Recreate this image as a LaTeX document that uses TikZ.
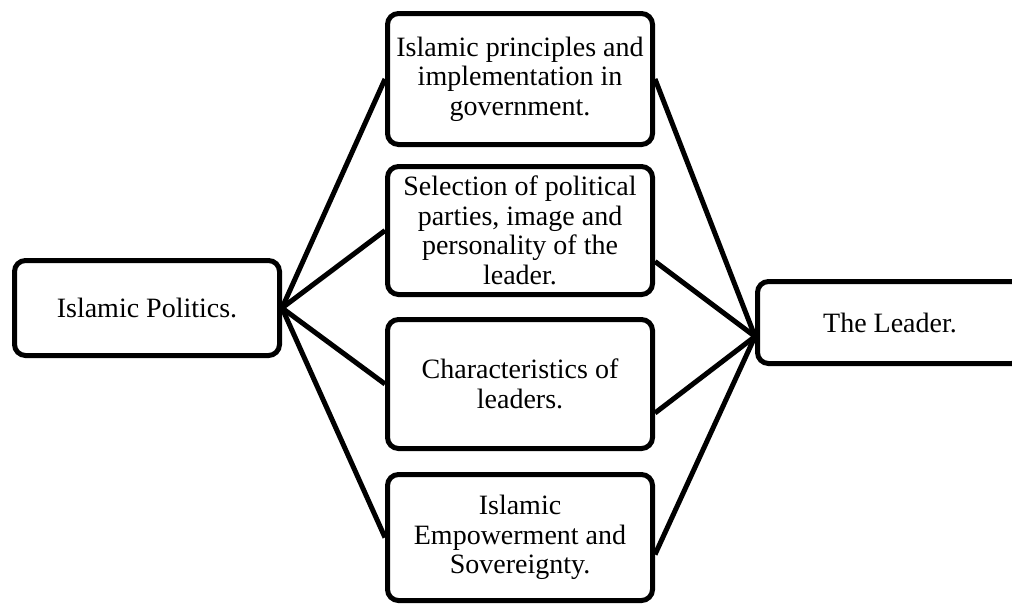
\documentclass[tikz,border=0pt]{standalone}
\usepackage{fontspec}
\setmainfont{Liberation Serif}
\begin{document}
\begin{tikzpicture}[x=1pt,y=-1pt,
  box/.style={draw=black, line width=5pt, rounded corners=11pt, fill=white,
    align=center, inner sep=0pt, minimum width=265pt,
    font=\fontsize{28}{29.5}\selectfont},
  link/.style={draw=black, line width=5pt}]
\useasboundingbox (0,0) rectangle (1012,605);
\node[box, minimum height=95pt] (pol) at (147,308) {Islamic Politics.};
\node[box, minimum height=131pt] (b1) at (520,79) {Islamic principles and\\implementation in\\government.};
\node[box, minimum height=128pt] (b2) at (520,230.5) {Selection of political\\parties, image and\\personality of the\\leader.};
\node[box, minimum height=129pt] (b3) at (520,384) {Characteristics of\\leaders.};
\node[box, minimum height=126pt] (b4) at (520,537.5) {Islamic\\Empowerment and\\Sovereignty.};
\node[box, minimum height=82pt] (lead) at (890,322.5) {The Leader.};
\coordinate (lin) at ([yshift=-14pt]lead.west);
\foreach \b in {b1,b2,b3,b4}{\draw[link] (pol.east) -- (\b.west);}
\draw[link] (b1.east) -- (lin);
\draw[link] ([yshift=-31pt]b2.east) -- (lin);
\draw[link] ([yshift=-29pt]b3.east) -- (lin);
\draw[link] ([yshift=-17pt]b4.east) -- (lin);
\end{tikzpicture}
\end{document}
